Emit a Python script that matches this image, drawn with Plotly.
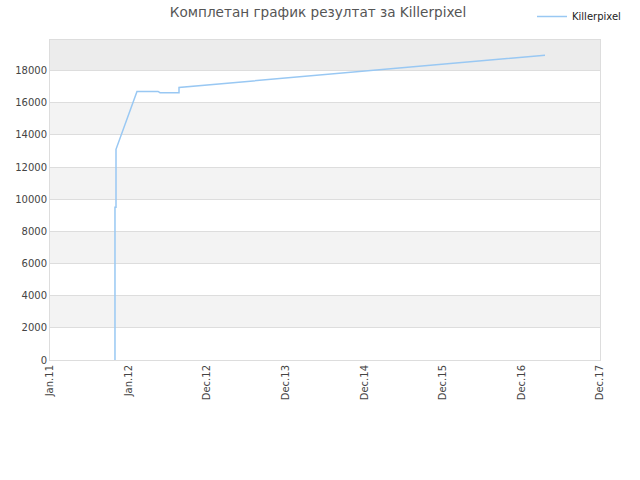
import plotly.graph_objects as go

# x positions in "tick units" (0 = Jan.11, 1 = Jan.12, ... 7 = Dec.17)
tick_labels = ["Jan.11", "Jan.12", "Dec.12", "Dec.13", "Dec.14", "Dec.15", "Dec.16", "Dec.17"]
x_vals = [0.827, 0.827, 0.840, 0.840, 1.107, 1.375, 1.40, 1.642, 1.642, 6.30]
y_vals = [0, 9500, 9500, 13100, 16700, 16700, 16620, 16620, 16950, 18950]
band_edges = [0, 2000, 4000, 6000, 8000, 10000, 12000, 14000, 16000, 18000, 19900]

W, H = 640, 480

fig = go.Figure()
fig.add_trace(go.Scatter(
    x=x_vals, y=y_vals, mode="lines", name="Killerpixel",
    line=dict(color="#99c8f3", width=1.5),
))

# alternating bands
shapes = []
for i in range(len(band_edges) - 1):
    if i % 2 == 1:
        col = "#ececec" if i == len(band_edges) - 2 else "#f3f3f3"
        shapes.append(dict(type="rect", xref="x domain", yref="y", x0=0, x1=1,
                           y0=band_edges[i], y1=band_edges[i + 1],
                           fillcolor=col, line_width=0, layer="below"))

fig.update_layout(
    width=W, height=H,
    margin=dict(l=0, r=0, t=0, b=0),
    paper_bgcolor="white", plot_bgcolor="white",
    font=dict(family="DejaVu Sans", size=10, color="#444"),
    title=dict(text="Комплетан график резултат за Killerpixel", x=318 / W, xanchor="center",
               y=1 - 12 / H, yanchor="middle", font=dict(size=13.6, color="#555")),
    showlegend=True,
    legend=dict(x=532 / W, y=1 - 2 / H, xanchor="left", yanchor="top", bgcolor="rgba(0,0,0,0)",
                itemwidth=30, font=dict(size=10, color="#222")),
    shapes=shapes,
    xaxis=dict(domain=[50 / W, 600 / W], range=[0, 7],
               tickvals=list(range(len(tick_labels))), ticktext=tick_labels,
               tickangle=-90, showgrid=False, zeroline=False, showline=True,
               linecolor="#ddd", mirror=True, ticks="", automargin=False),
    yaxis=dict(domain=[(H - 360) / H, (H - 40) / H], range=[0, 19900], dtick=2000,
               showgrid=True, gridcolor="#dddddd",
               zeroline=False, showline=True, linecolor="#ddd", mirror=True,
               ticks="", tickformat="d", automargin=False),
)

# drop the page's default body margin so the figure sits at the window corner
fig.write_html("out.html", config={"displayModeBar": False},
               post_script="document.body.style.margin = '0';")
